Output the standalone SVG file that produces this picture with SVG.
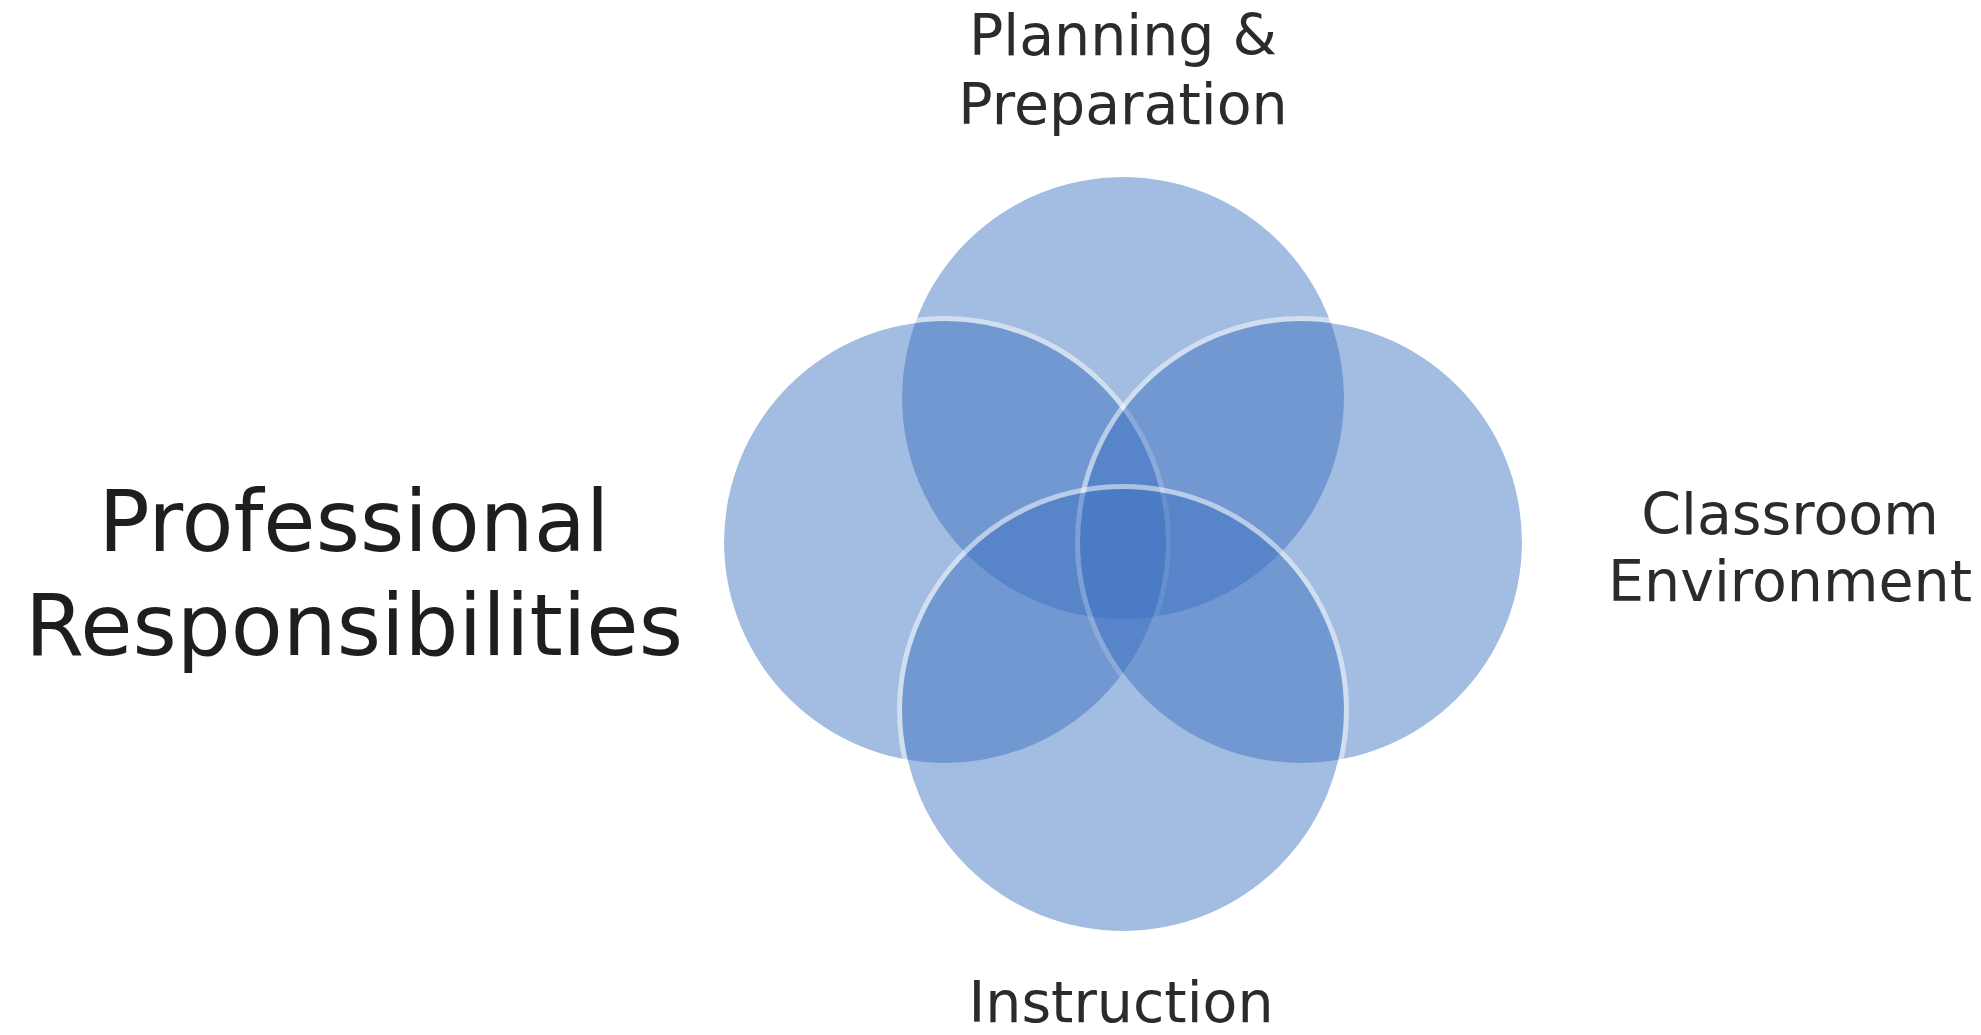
<svg xmlns="http://www.w3.org/2000/svg" width="1981" height="1035" viewBox="0 0 1981 1035">
  <style>
    .c { fill: #3C70C0; fill-opacity: 0.47; stroke: none; }
    .ring { fill: none; stroke: #ffffff; stroke-opacity: 0.5; stroke-width: 5; }
    .lbl { font-family: "DejaVu Sans", Verdana, sans-serif; fill: #2b2b2b; text-anchor: middle; }
    .small { font-size: 57px; }
    .big { font-size: 85px; fill: #1e1e1e; }
  </style>
  <rect width="1981" height="1035" fill="#ffffff"/>
  <g id="circles">
    <g id="planning"><circle class="c" cx="1123" cy="398" r="221"/><circle class="ring" cx="1123" cy="398" r="223.5"/></g>
    <g id="professional"><circle class="c" cx="945" cy="542" r="221"/><circle class="ring" cx="945" cy="542" r="223.5"/></g>
    <g id="classroom"><circle class="c" cx="1301" cy="542" r="221"/><circle class="ring" cx="1301" cy="542" r="223.5"/></g>
    <g id="instruction"><circle class="c" cx="1123" cy="710" r="221"/><circle class="ring" cx="1123" cy="710" r="223.5"/></g>
  </g>
  <g id="connectors"></g>
  <g id="labels">
    <g id="label-planning">
      <text class="lbl small" x="1123" y="55">Planning &amp;</text>
      <text class="lbl small" x="1123" y="124">Preparation</text>
    </g>
    <g id="label-professional">
      <text class="lbl big" x="354" y="551">Professional</text>
      <text class="lbl big" x="354" y="655">Responsibilities</text>
    </g>
    <g id="label-classroom">
      <text class="lbl small" x="1790" y="534">Classroom</text>
      <text class="lbl small" x="1790" y="601">Environment</text>
    </g>
    <g id="label-instruction">
      <text class="lbl small" x="1121" y="1022">Instruction</text>
    </g>
  </g>
</svg>
